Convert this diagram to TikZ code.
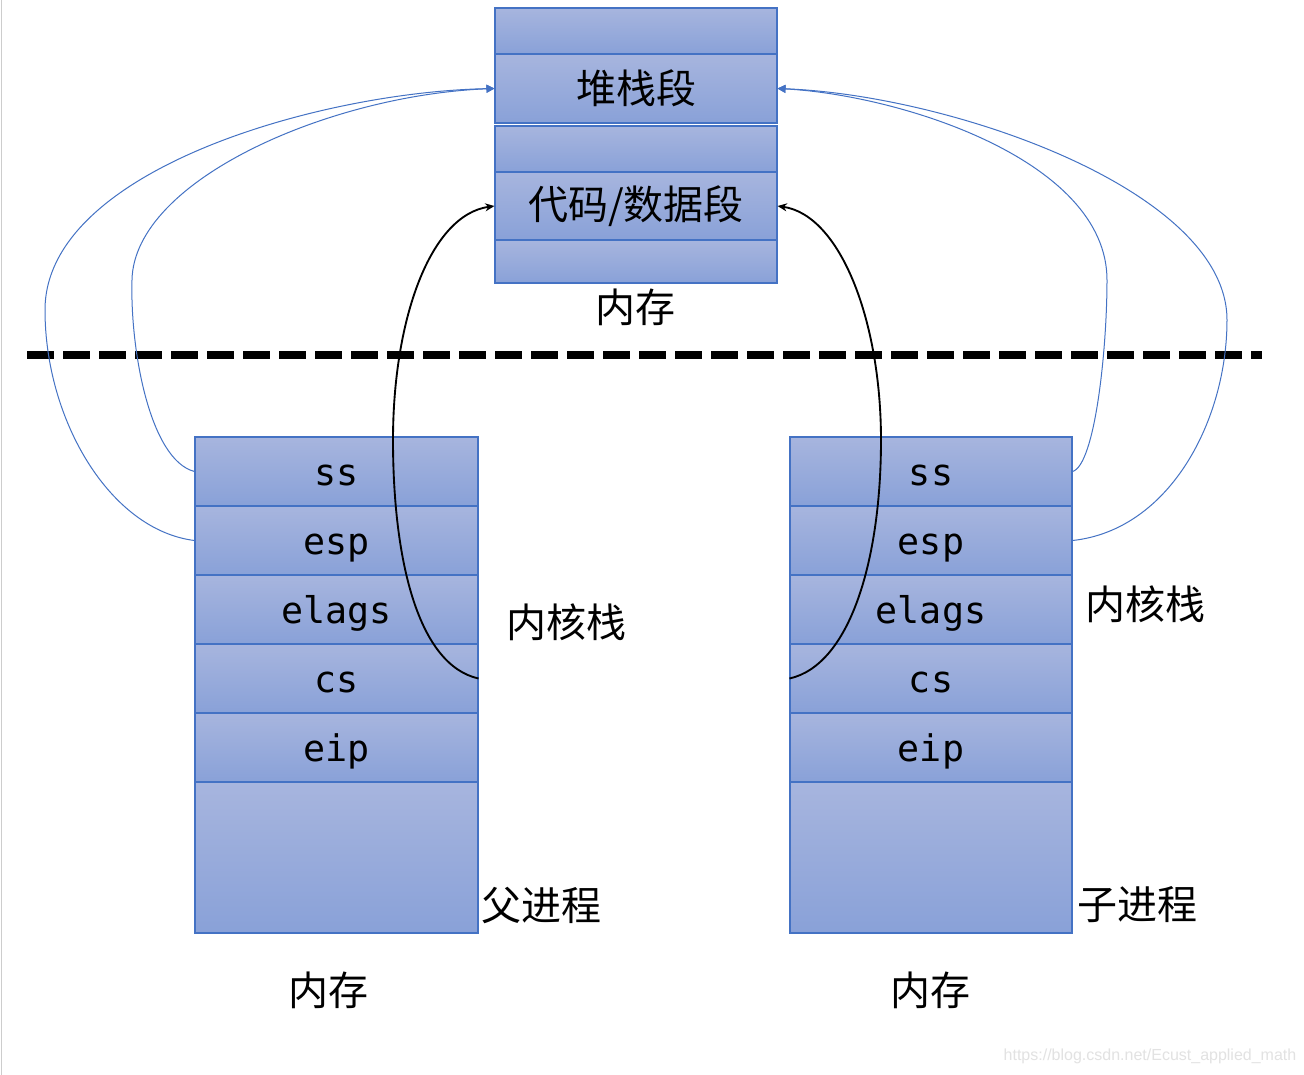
\documentclass[tikz,border=0pt]{standalone}
\usepackage{fontspec}
\newfontfamily\cjk{Noto Sans CJK SC}
\newfontfamily\monof{DejaVu Sans Mono}
\newfontfamily\wmf{Liberation Sans}
\usetikzlibrary{arrows.meta}
\definecolor{cellTop}{RGB}{167,181,222}
\definecolor{cellBot}{RGB}{137,161,216}
\definecolor{cellLine}{RGB}{68,114,196}
\definecolor{linkBlue}{RGB}{68,114,196}
\definecolor{wmGray}{RGB}{226,226,226}
\definecolor{edgeGray}{RGB}{205,205,205}
\begin{document}
\begin{tikzpicture}[x=0.75pt,y=-0.75pt,
  cell/.style={draw=cellLine, line width=0.8pt, top color=cellTop, bottom color=cellBot,
    inner sep=0pt, minimum width=#1},
  cjklabel/.style={font=\cjk\fontsize{30}{35}\selectfont, inner sep=0pt},
  regtext/.style={font=\monof\fontsize{27.5}{32}\selectfont, text height=21pt, text depth=0pt},
  bluelink/.style={draw=linkBlue, line width=0.75pt, -{Triangle[length=6pt,width=6pt]}},
  blacklink/.style={draw=black, line width=1.4pt, -{Stealth[length=7pt,width=6pt]}},
  divider/.style={draw=black, line width=6pt, dash pattern=on 20.25pt off 6.75pt}
]
\useasboundingbox[fill=white] (0,0) rectangle (1304,1075);
\draw[edgeGray, line width=0.9pt] (1.5,0) -- (1.5,1075);

% top memory
\node[cell=211.5pt, minimum height=34.5pt] (t1) at (636,31) {};
\node[cell=211.5pt, minimum height=51.75pt, cjklabel] (stk) at (636,88.5) {堆栈段};
\node[cell=211.5pt, minimum height=34.5pt] (t3) at (636,149) {};
\node[cell=211.5pt, minimum height=51pt, cjklabel] (code) at (636,206) {代码/数据段};
\node[cell=211.5pt, minimum height=32.25pt] (t5) at (636,261.5) {};
\node[cjklabel] (memtop) at (635,307) {内存};

% divider
\coordinate (dl) at (27,355);
\coordinate (dr) at (1262,355);
\draw[divider] (dl) -- (dr);

% left stack
\node[cell=212.25pt, minimum height=51.75pt, regtext] (lss) at (336.5,471.5) {ss};
\node[cell=212.25pt, minimum height=51.75pt, regtext] (lesp) at (336.5,540.5) {esp};
\node[cell=212.25pt, minimum height=51.75pt, regtext] (lelags) at (336.5,609.5) {elags};
\node[cell=212.25pt, minimum height=51.75pt, regtext] (lcs) at (336.5,678.5) {cs};
\node[cell=212.25pt, minimum height=51.75pt, regtext] (leip) at (336.5,747.5) {eip};
\node[cell=212.25pt, minimum height=113.25pt] (lrest) at (336.5,857.5) {};

% right stack
\node[cell=211.5pt, minimum height=51.75pt, regtext] (rss) at (931,471.5) {ss};
\node[cell=211.5pt, minimum height=51.75pt, regtext] (resp) at (931,540.5) {esp};
\node[cell=211.5pt, minimum height=51.75pt, regtext] (relags) at (931,609.5) {elags};
\node[cell=211.5pt, minimum height=51.75pt, regtext] (rcs) at (931,678.5) {cs};
\node[cell=211.5pt, minimum height=51.75pt, regtext] (reip) at (931,747.5) {eip};
\node[cell=211.5pt, minimum height=113.25pt] (rrest) at (931,857.5) {};

% labels
\node[cjklabel] (lkstack) at (566.5,622) {内核栈};
\node[cjklabel] (rkstack) at (1145,604) {内核栈};
\node[cjklabel] (parent) at (541.5,905) {父进程};
\node[cjklabel] (child) at (1137.5,905) {子进程};
\node[cjklabel] (memleft) at (328,990) {内存};
\node[cjklabel] (memright) at (930.5,990) {内存};
\node[font=\wmf\fontsize{12}{14}\selectfont, text=wmGray, inner sep=0pt] (wm) at (1150,1056) {https://blog.csdn.net/Ecust\_applied\_math};

% blue links
\draw[bluelink] (lss.west) .. controls (150,460) and (130,350) .. (132,280)
  .. controls (134,180) and (330,95) .. (stk.west);
\draw[bluelink] (lesp.west) .. controls (110,530) and (45,420) .. (45,310)
  .. controls (45,170) and (320,92) .. (stk.west);
\draw[bluelink] (rss.east) .. controls (1095,465) and (1107,350) .. (1107,280)
  .. controls (1107,160) and (900,95) .. (stk.east);
\draw[bluelink] (resp.east) .. controls (1170,530) and (1227,420) .. (1227,320)
  .. controls (1227,190) and (950,95) .. (stk.east);

% black links
\draw[blacklink] (lcs.east) .. controls (418,665) and (393,560) .. (393,440)
  .. controls (393,320) and (430,215) .. (code.west);
\draw[blacklink] (rcs.west) .. controls (850,665) and (881,560) .. (881,440)
  .. controls (881,320) and (840,215) .. (code.east);
\end{tikzpicture}
\end{document}
